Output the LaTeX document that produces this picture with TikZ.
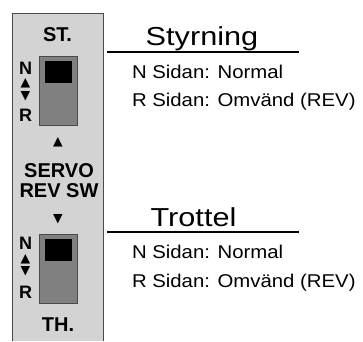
\documentclass[tikz,border=0pt]{standalone}
\usepackage{fontspec}
\setmainfont{Liberation Sans}[FakeStretch=1.1]
\newfontfamily\headfont{Liberation Sans}[FakeStretch=1.18]
\newfontfamily\panelfont{Liberation Sans}
\newfontfamily\symfont{DejaVu Sans}
\definecolor{panelgray}{HTML}{D3D3D3}
\definecolor{switchgray}{HTML}{808080}
\definecolor{edgegray}{HTML}{4A4A4A}

\begin{document}
\begin{tikzpicture}[x=1pt, y=-1pt, every node/.style={inner sep=0pt, outer sep=0pt},
	paneltext/.style={font=\panelfont\bfseries\fontsize{20}{22}\selectfont},
	sidetext/.style={font=\panelfont\bfseries\fontsize{18}{20}\selectfont},
	tri/.style={font=\symfont\fontsize{12.5}{13}\selectfont},
	heading/.style={font=\headfont\fontsize{26}{28}\selectfont, anchor=base},
	infotext/.style={font=\fontsize{18.5}{20}\selectfont, anchor=base west},
	switchbox/.style={draw=edgegray, fill=switchgray, line width=0.8pt, minimum width=38, minimum height=69},
	knob/.style={fill=black, minimum width=27, minimum height=22}]
	\useasboundingbox (0,0) rectangle (363,341);
	% Panel (open at the bottom)
	\fill[panelgray] (12.5,13) rectangle (103,341);
	\draw[edgegray, line width=0.8pt] (12.5,341) |- (103,13) -- (103,341);
	% Steering switch
	\node (StLabel)		[paneltext, anchor=base]	at (57.5,41.5)	{ST.};
	\node (StSwitch)	[switchbox]					at (58,90.5)	{};
	\node (StKnob)		[knob]						at (58.5,72)	{};
	\node (StN)			[sidetext]					at (25.5,68)	{N};
	\node (StUp)		[tri]						at (25.5,83.5)	{▲};
	\node (StDown)		[tri]						at (25.5,96)	{▼};
	\node (StR)			[sidetext]					at (25.5,115)	{R};
	\node (UpMark)		[tri]						at (58,142.5)	{▲};
	\node (ServoLabel)	[paneltext, anchor=base]	at (59,177)		{SERVO};
	\node (RevLabel)	[paneltext, anchor=base]	at (59,197)		{REV SW};
	\node (DownMark)	[tri]						at (58,219)		{▼};
	% Throttle switch
	\node (ThSwitch)	[switchbox]					at (58,268.5)	{};
	\node (ThKnob)		[knob]						at (58.5,249.5)	{};
	\node (ThN)			[sidetext]					at (25.5,243.5)	{N};
	\node (ThUp)		[tri]						at (25.5,259)	{▲};
	\node (ThDown)		[tri]						at (25.5,271.5)	{▼};
	\node (ThR)			[sidetext]					at (25.5,292)	{R};
	\node (ThLabel)		[paneltext, anchor=base]	at (58,331.5)	{TH.};
	% Descriptions
	\node (Styrning)	[heading]					at (202,45)		{Styrning};
	\coordinate (StRuleL) at (107,52);
	\coordinate (StRuleR) at (299,52);
	\draw[line width=1.6pt] (StRuleL) -- (StRuleR);
	\node (StNormal)	[infotext]					at (132,78)		{N Sidan: Normal};
	\node (StReverse)	[infotext]					at (132,106)	{R Sidan: Omvänd (REV)};
	\node (Trottel)		[heading]					at (193.5,226)	{Trottel};
	\coordinate (ThRuleL) at (107,232);
	\coordinate (ThRuleR) at (299,232);
	\draw[line width=1.6pt] (ThRuleL) -- (ThRuleR);
	\node (ThNormal)	[infotext]					at (132,258)	{N Sidan: Normal};
	\node (ThReverse)	[infotext]					at (132,287)	{R Sidan: Omvänd (REV)};
\end{tikzpicture}
\end{document}
